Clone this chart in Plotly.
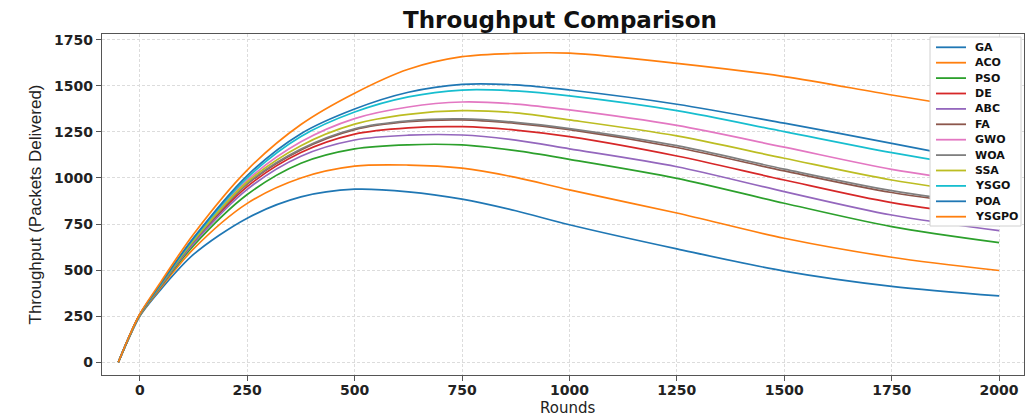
import plotly.graph_objects as go

rounds = [-50, -25, 0, 50, 125, 250, 375, 500, 625, 750, 875, 1000, 1250, 1500, 1750, 2000]

series_names = ["GA", "ACO", "PSO", "DE", "ABC", "FA", "GWO", "WOA", "SSA", "YSGO", "POA", "YSGPO"]

ga    = [0, 132, 250, 398, 585, 782, 897, 939, 925, 885, 822, 746, 615, 495, 412, 360]
aco   = [0, 134, 253, 408, 615, 862, 1000, 1064, 1070, 1053, 1003, 935, 810, 673, 570, 498]
pso   = [0, 136, 255, 416, 633, 910, 1080, 1158, 1180, 1179, 1148, 1101, 998, 863, 736, 649]
de    = [0, 137, 257, 421, 650, 953, 1138, 1238, 1272, 1278, 1260, 1224, 1119, 989, 866, 785]
abc   = [0, 136, 256, 419, 644, 938, 1118, 1206, 1232, 1233, 1205, 1158, 1061, 926, 799, 714]
fa    = [0, 137, 258, 423, 655, 966, 1152, 1262, 1305, 1315, 1296, 1262, 1165, 1038, 921, 843]
gwo   = [0, 138, 259, 426, 664, 988, 1196, 1322, 1385, 1412, 1401, 1369, 1285, 1167, 1047, 962]
woa   = [0, 137, 258, 423, 656, 970, 1157, 1267, 1310, 1320, 1302, 1268, 1175, 1048, 931, 848]
ssa   = [0, 137, 258, 425, 660, 978, 1175, 1292, 1345, 1365, 1353, 1315, 1228, 1107, 989, 905]
ysgo  = [0, 138, 259, 428, 670, 1001, 1225, 1358, 1440, 1477, 1472, 1445, 1365, 1251, 1137, 1040]
poa   = [0, 139, 260, 431, 675, 1013, 1240, 1374, 1465, 1508, 1505, 1477, 1400, 1297, 1188, 1075]
ysgpo = [0, 140, 262, 440, 695, 1043, 1290, 1460, 1590, 1658, 1676, 1677, 1622, 1550, 1450, 1355]

values = [ga, aco, pso, de, abc, fa, gwo, woa, ssa, ysgo, poa, ysgpo]
colors = ["#1f77b4", "#ff7f0e", "#2ca02c", "#d62728", "#9467bd", "#8c564b",
          "#e377c2", "#7f7f7f", "#bcbd22", "#17becf", "#1f77b4", "#ff7f0e"]

x_ticks = [0, 250, 500, 750, 1000, 1250, 1500, 1750, 2000]
y_ticks = [0, 250, 500, 750, 1000, 1250, 1500, 1750]

W, H = 1025, 416
L, R, T, B = 102, 1, 34, 41
pw, ph = W - L - R, H - T - B

def px(xp):
    return (xp - L) / pw

def py(yp):
    return (H - B - yp) / ph

fig = go.Figure()
for name, vals, col in zip(series_names, values, colors):
    fig.add_trace(go.Scatter(x=rounds, y=vals, mode="lines", name=name, showlegend=False,
                             line=dict(color=col, width=1.7, shape="spline", smoothing=0.9)))

font_family = "DejaVu Sans"
axis_common = dict(showline=True, linecolor="#555", linewidth=1.4, mirror=True,
                   ticks="outside", ticklen=5, tickcolor="#555", tickwidth=1.2,
                   showgrid=True, gridcolor="#dcdcdc", griddash="3px,2px", gridwidth=1,
                   zeroline=False, automargin=False,
                   tickfont=dict(family=font_family, size=14, color="#222", weight="bold"))

# legend box (drawn in paper coordinates)
shapes = [dict(type="rect", xref="paper", yref="paper",
               x0=px(930), x1=px(1021), y0=py(226), y1=py(37),
               fillcolor="white", line=dict(color="#d0d0d0", width=1), layer="above")]
annotations = []
entry_y0, entry_gap = 47.3, 15.4
for i, (name, col) in enumerate(zip(series_names, colors)):
    yy = entry_y0 + i * entry_gap
    shapes.append(dict(type="line", xref="paper", yref="paper",
                       x0=px(936), x1=px(966), y0=py(yy), y1=py(yy),
                       line=dict(color=col, width=1.8), layer="above"))
    annotations.append(dict(text=name, xref="paper", yref="paper", x=px(973), y=py(yy),
                            xanchor="left", yanchor="middle", showarrow=False,
                            font=dict(family=font_family, size=11, color="#111", weight="bold")))

annotations.append(dict(text="Rounds", xref="paper", yref="paper", x=px(567), y=py(408),
                        xanchor="center", yanchor="middle", showarrow=False,
                        font=dict(family=font_family, size=15, color="#222")))

fig.update_layout(
    width=W, height=H,
    margin=dict(l=L, r=R, t=T, b=B),
    paper_bgcolor="white", plot_bgcolor="white",
    title=dict(text="<b>Throughput Comparison</b>", x=px(560), xref="paper", xanchor="center",
               y=1 - 20 / H, yref="container", yanchor="middle",
               font=dict(family=font_family, size=23, color="#111")),
    xaxis=dict(range=[-88, 2058], tickvals=x_ticks, ticklabelstandoff=-3, **axis_common),
    yaxis=dict(range=[-69, 1781], tickvals=y_ticks,
               title=dict(text="Throughput (Packets Delivered)",
                          font=dict(family="Liberation Sans Narrow, Liberation Sans", size=17, color="#222"),
                          standoff=8),
               **axis_common),
    shapes=shapes,
    annotations=annotations,
    showlegend=False,
)

fig.write_html("out.html", config={"displayModeBar": False},
               post_script="document.body.style.margin='0';document.body.style.overflow='hidden';")
